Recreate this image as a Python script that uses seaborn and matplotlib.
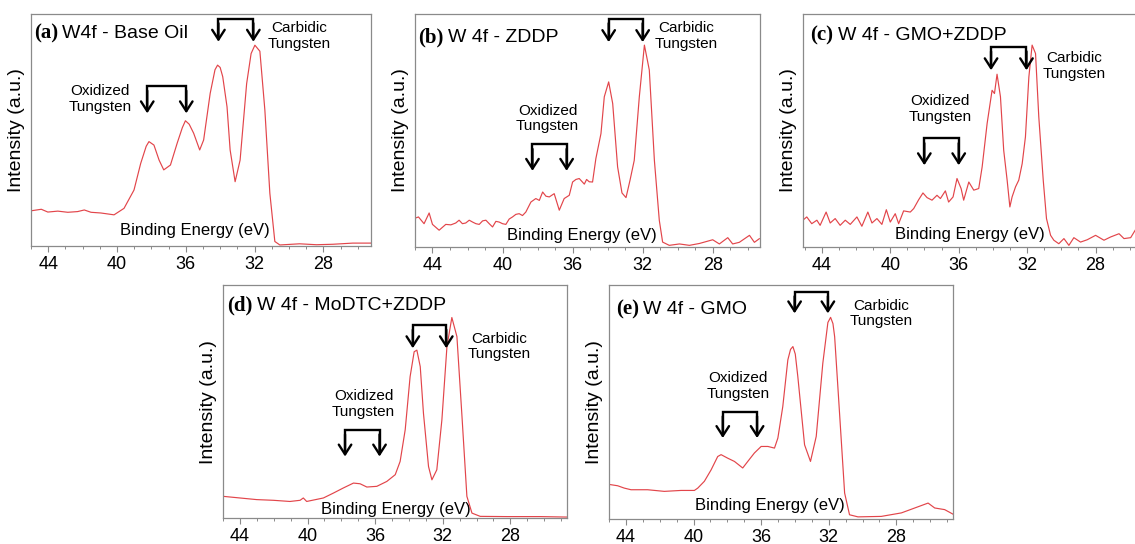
import numpy as np
import pandas as pd
import matplotlib
matplotlib.use("Agg")
import matplotlib.pyplot as plt
from matplotlib.ticker import MultipleLocator
import seaborn as sns

# W 4f spectra: binding energy (eV) and normalised intensity
energy_a = [44.94, 44.40, 44.02, 43.44, 42.86, 42.29, 41.90, 41.51, 40.94, 40.17,
            39.59, 39.01, 38.62, 38.30, 38.14, 37.85, 37.55, 37.28, 36.89, 36.50,
            36.20, 36.02, 35.80, 35.54, 35.19, 34.96, 34.58, 34.30, 34.15, 34.00,
            33.85, 33.60, 33.42, 33.13, 32.84, 32.46, 32.20, 31.98, 31.69, 31.40,
            31.11, 30.82, 30.53, 29.38, 28.40, 27.45, 26.29, 25.19]
intensity_a = [0.152, 0.158, 0.146, 0.150, 0.145, 0.148, 0.155, 0.145, 0.142, 0.134,
               0.162, 0.241, 0.356, 0.430, 0.450, 0.435, 0.370, 0.328, 0.349, 0.443,
               0.510, 0.540, 0.525, 0.486, 0.414, 0.457, 0.658, 0.760, 0.780, 0.770,
               0.730, 0.600, 0.414, 0.277, 0.370, 0.700, 0.830, 0.866, 0.840, 0.586,
               0.227, 0.019, 0.004, 0.009, 0.005, 0.007, 0.012, 0.012]

energy_b = [45.05, 44.80, 44.48, 44.19, 44.00, 43.62, 43.24, 42.95, 42.67, 42.48,
            42.29, 42.10, 41.90, 41.71, 41.52, 41.33, 41.14, 40.95, 40.76, 40.57,
            40.38, 40.19, 40.00, 39.81, 39.62, 39.43, 39.24, 39.05, 38.86, 38.67,
            38.38, 38.10, 37.90, 37.71, 37.52, 37.33, 37.05, 36.76, 36.48, 36.19,
            36.00, 35.81, 35.62, 35.33, 35.20, 35.05, 34.86, 34.67, 34.38, 34.19,
            33.94, 33.71, 33.43, 33.18, 32.95, 32.72, 32.48, 32.19, 31.90, 31.62,
            31.33, 31.05, 30.86, 30.48, 29.90, 29.33, 28.76, 28.00, 27.62, 27.14,
            26.86, 26.48, 25.90, 25.62, 25.33]
intensity_b = [0.122, 0.129, 0.100, 0.146, 0.097, 0.072, 0.097, 0.095, 0.103, 0.115,
               0.100, 0.103, 0.115, 0.107, 0.100, 0.097, 0.112, 0.115, 0.100, 0.086,
               0.110, 0.107, 0.100, 0.097, 0.120, 0.129, 0.140, 0.143, 0.135, 0.150,
               0.193, 0.208, 0.200, 0.236, 0.218, 0.215, 0.229, 0.158, 0.208, 0.222,
               0.279, 0.290, 0.294, 0.270, 0.290, 0.280, 0.279, 0.380, 0.487, 0.645,
               0.709, 0.616, 0.344, 0.232, 0.212, 0.287, 0.372, 0.645, 0.867, 0.760,
               0.372, 0.115, 0.021, 0.007, 0.013, 0.007, 0.015, 0.031, 0.013, 0.040,
               0.013, 0.020, 0.050, 0.020, 0.036]

energy_c = [45.11, 44.88, 44.59, 44.29, 44.10, 43.75, 43.51, 43.22, 42.93, 42.63,
            42.34, 41.95, 41.66, 41.31, 41.07, 40.78, 40.49, 40.23, 40.00, 39.71,
            39.51, 39.22, 38.83, 38.63, 38.34, 38.09, 37.85, 37.56, 37.27, 37.07,
            36.78, 36.59, 36.33, 36.10, 35.86, 35.71, 35.41, 35.12, 34.83, 34.63,
            34.34, 34.05, 33.91, 33.76, 33.56, 33.37, 33.17, 33.01, 32.88, 32.68,
            32.49, 32.29, 32.10, 31.90, 31.71, 31.51, 31.32, 31.06, 30.87, 30.63,
            30.44, 30.15, 29.85, 29.56, 29.27, 28.88, 28.49, 28.00, 27.51, 27.12,
            26.63, 26.34, 25.95, 25.66]
intensity_c = [0.115, 0.129, 0.100, 0.115, 0.093, 0.150, 0.103, 0.122, 0.093, 0.115,
               0.097, 0.129, 0.089, 0.150, 0.103, 0.122, 0.097, 0.160, 0.107, 0.143,
               0.100, 0.155, 0.150, 0.165, 0.203, 0.232, 0.212, 0.201, 0.222, 0.208,
               0.241, 0.193, 0.215, 0.294, 0.251, 0.201, 0.279, 0.244, 0.251, 0.344,
               0.530, 0.673, 0.659, 0.742, 0.645, 0.415, 0.287, 0.172, 0.215, 0.258,
               0.287, 0.358, 0.473, 0.730, 0.867, 0.831, 0.559, 0.287, 0.122, 0.050,
               0.029, 0.014, 0.036, 0.007, 0.040, 0.021, 0.031, 0.050, 0.029, 0.043,
               0.057, 0.036, 0.040, 0.075]

energy_d = [44.99, 44.00, 43.01, 42.02, 41.04, 40.44, 40.25, 40.05, 39.06, 38.47,
            37.88, 37.28, 36.89, 36.49, 35.90, 35.31, 34.81, 34.52, 34.22, 33.93,
            33.69, 33.53, 33.33, 33.14, 32.84, 32.64, 32.35, 32.05, 31.75, 31.46,
            31.16, 30.86, 30.57, 30.27, 29.78, 28.20, 26.22, 24.64]
intensity_d = [0.093, 0.086, 0.079, 0.076, 0.071, 0.076, 0.086, 0.071, 0.086, 0.107,
               0.129, 0.150, 0.147, 0.133, 0.136, 0.157, 0.186, 0.243, 0.379, 0.607,
               0.714, 0.721, 0.650, 0.450, 0.221, 0.164, 0.207, 0.421, 0.736, 0.861,
               0.779, 0.436, 0.093, 0.021, 0.007, 0.006, 0.006, 0.004]

energy_e = [44.93, 44.49, 44.10, 43.70, 42.72, 41.73, 40.74, 39.95, 39.75, 39.36,
            38.96, 38.57, 38.37, 37.98, 37.58, 37.09, 36.79, 36.40, 36.00, 35.60,
            35.21, 35.01, 34.72, 34.42, 34.26, 34.12, 33.98, 33.83, 33.43, 33.08,
            32.74, 32.35, 32.05, 31.89, 31.75, 31.65, 31.36, 31.06, 30.77, 30.27,
            28.89, 27.70, 26.91, 26.12, 25.73, 25.14, 24.58]
intensity_e = [0.147, 0.142, 0.132, 0.125, 0.125, 0.118, 0.122, 0.122, 0.132, 0.161,
               0.210, 0.267, 0.275, 0.260, 0.246, 0.218, 0.246, 0.282, 0.310, 0.310,
               0.303, 0.346, 0.480, 0.680, 0.725, 0.737, 0.705, 0.609, 0.317, 0.246,
               0.353, 0.666, 0.840, 0.862, 0.835, 0.779, 0.452, 0.111, 0.018, 0.009,
               0.011, 0.026, 0.047, 0.068, 0.047, 0.040, 0.018]

panel_tags = ["(a)", "(b)", "(c)", "(d)", "(e)"]
panel_names = ["W4f - Base Oil", "W 4f - ZDDP", "W 4f - GMO+ZDDP",
               "W 4f - MoDTC+ZDDP", "W 4f - GMO"]
tick_values = [44, 40, 36, 32, 28]

# layout: axes rect in figure fraction, x limits, label / bracket placement
layout = [
    dict(rect=[0.0273, 0.548, 0.300, 0.426], xlim=(45.0, 25.2), title=(0.008, 0.917),
         xlab=(0.481, 0.100),
         carb=(34.10, 32.07, 0.981, 0.881, 29.38, 0.906),
         oxid=(38.24, 35.97, 0.690, 0.572, 40.99, 0.634)),
    dict(rect=[0.3656, 0.546, 0.304, 0.428], xlim=(45.0, 25.3), title=(0.010, 0.900),
         xlab=(0.484, 0.082),
         carb=(33.94, 32.00, 0.981, 0.880, 29.49, 0.907),
         oxid=(38.29, 36.34, 0.441, 0.327, 37.43, 0.552)),
    dict(rect=[0.7075, 0.546, 0.303, 0.428], xlim=(45.1, 25.0), title=(0.022, 0.910),
         xlab=(0.486, 0.086),
         carb=(34.11, 32.04, 0.860, 0.759, 29.27, 0.778),
         oxid=(38.01, 36.00, 0.466, 0.351, 37.07, 0.592)),
    dict(rect=[0.1965, 0.0478, 0.303, 0.428], xlim=(45.0, 24.65), title=(0.012, 0.914),
         xlab=(0.503, 0.069),
         carb=(33.77, 31.79, 0.829, 0.729, 28.63, 0.736),
         oxid=(37.78, 35.74, 0.379, 0.264, 36.69, 0.490)),
    dict(rect=[0.5366, 0.046, 0.303, 0.430], xlim=(45.0, 24.65), title=(0.021, 0.896),
         xlab=(0.468, 0.090),
         carb=(34.02, 32.05, 0.972, 0.879, 28.89, 0.879),
         oxid=(38.27, 36.24, 0.459, 0.346, 37.38, 0.569)),
]

sns.set_style("white")
plt.rcParams["font.family"] = ["Liberation Sans", "DejaVu Sans"]
plt.rcParams["text.color"] = "black"
plt.rcParams["axes.labelcolor"] = "black"
plt.rcParams["xtick.labelcolor"] = "black"

spectra = [(energy_a, intensity_a), (energy_b, intensity_b), (energy_c, intensity_c),
           (energy_d, intensity_d), (energy_e, intensity_e)]

LINE_RED = "#e2454a"
SPINE = "#8a8a8a"


def draw_bracket(ax, x1, x2, ytop, ytip):
    ax.plot([x1, x1, x2, x2], [ytip + 0.02, ytop, ytop, ytip + 0.02],
            color="black", lw=1.7, solid_capstyle="butt", solid_joinstyle="miter")
    for xx in (x1, x2):
        ax.annotate("", xy=(xx, ytip), xytext=(xx, ytop - 0.02),
                    arrowprops=dict(arrowstyle="->,head_length=0.7,head_width=0.45",
                                    lw=1.7, color="black", shrinkA=0, shrinkB=0,
                                    mutation_scale=10))


fig = plt.figure(figsize=(11.35, 5.44), dpi=100)

for i, (energy, intensity) in enumerate(spectra):
    lay = layout[i]
    ax = fig.add_axes(lay["rect"])
    df = pd.DataFrame({"Binding Energy (eV)": energy, "Intensity": intensity})
    sns.lineplot(data=df, x="Binding Energy (eV)", y="Intensity", ax=ax,
                 color=LINE_RED, lw=0.85, estimator=None, sort=False)
    ax.set_xlim(*lay["xlim"])
    ax.set_ylim(0, 1)
    ax.set_yticks([])
    ax.set_xticks(tick_values)
    ax.xaxis.set_minor_locator(MultipleLocator(1))
    ax.tick_params(axis="x", which="major", direction="out", length=4, width=0.8,
                   color=SPINE, labelcolor="black", labelsize=13, pad=3, bottom=True)
    ax.tick_params(axis="x", which="minor", direction="out", length=2.5, width=0.7,
                   color=SPINE, bottom=True)
    for sp in ax.spines.values():
        sp.set_color(SPINE)
        sp.set_linewidth(0.9)

    ax.set_ylabel("Intensity (a.u.)", fontsize=14, labelpad=4, color="black")
    ax.set_xlabel("Binding Energy (eV)", fontsize=12, color="black")
    ax.xaxis.set_label_coords(*lay["xlab"])

    tx, ty = lay["title"]
    tag = ax.text(tx, ty, panel_tags[i], transform=ax.transAxes, ha="left", va="center",
                  fontsize=15, fontweight="bold", family="Liberation Serif",
                  color="black")
    ax.annotate(panel_names[i], xy=(1, 0.5), xycoords=tag, xytext=(3, 0),
                textcoords="offset points", ha="left", va="center", fontsize=14,
                color="black")

    cx1, cx2, cyt, cyp, ctx, cty = lay["carb"]
    draw_bracket(ax, cx1, cx2, cyt, cyp)
    ax.text(ctx, cty, "Carbidic\nTungsten", ha="center", va="center", fontsize=11,
            linespacing=1.15, color="black")

    ox1, ox2, oyt, oyp, otx, oty = lay["oxid"]
    draw_bracket(ax, ox1, ox2, oyt, oyp)
    ax.text(otx, oty, "Oxidized\nTungsten", ha="center", va="center", fontsize=11,
            linespacing=1.15, color="black")

fig.savefig("out.png", dpi=100)
